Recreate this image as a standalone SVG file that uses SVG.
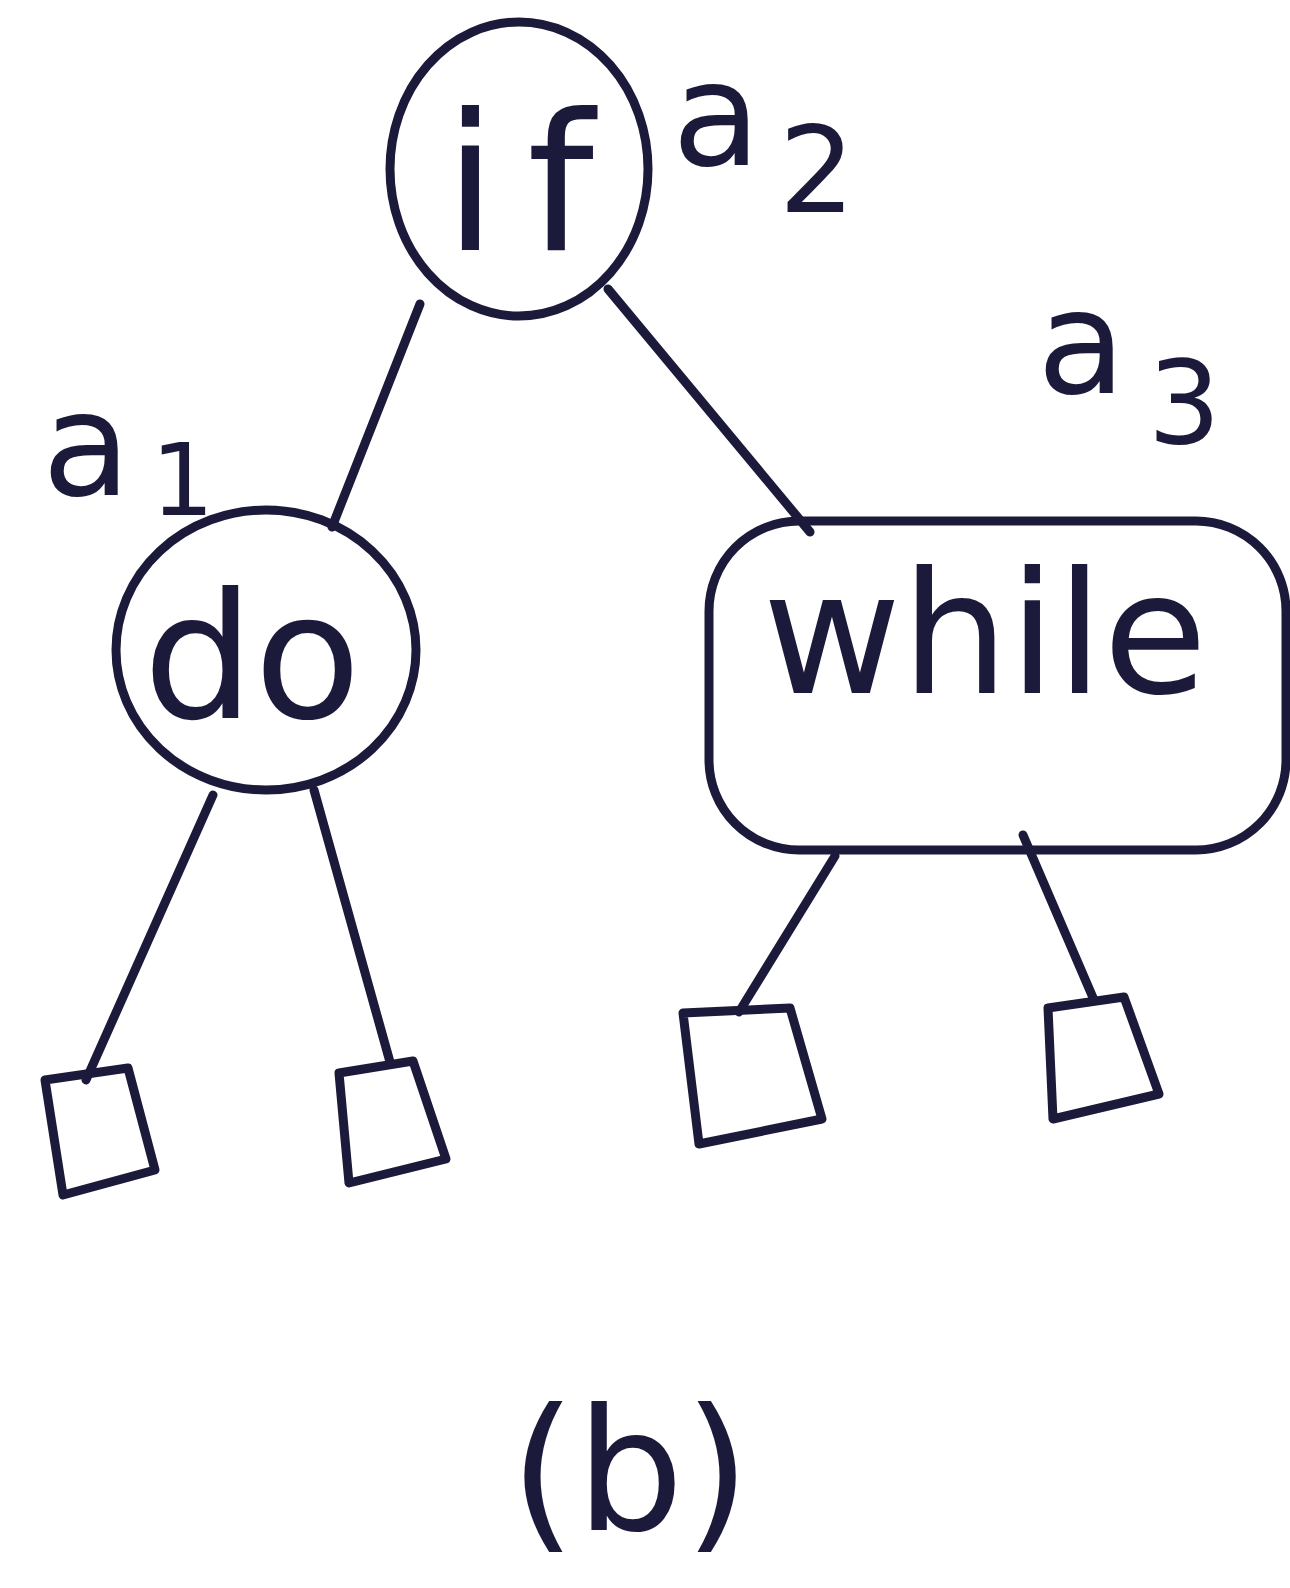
<svg xmlns="http://www.w3.org/2000/svg" width="1290" height="1588" viewBox="0 0 1290 1588">
<style>
.s{fill:none;stroke:#1c1a3a;stroke-width:9;stroke-linecap:round;stroke-linejoin:round}
.t{font-family:"DejaVu Sans","Liberation Sans",sans-serif;fill:#1c1a3a;text-anchor:middle}
.l{font-family:"DejaVu Sans","Liberation Sans",sans-serif;fill:#1c1a3a}
</style>
<rect width="1290" height="1588" fill="#ffffff"/>
<g id="connectors">
<line class="s" x1="420" y1="304" x2="332" y2="527"/>
<line class="s" x1="608" y1="289" x2="810" y2="532"/>
<line class="s" x1="213" y1="795" x2="86" y2="1080"/>
<line class="s" x1="314" y1="790" x2="390" y2="1062"/>
<line class="s" x1="835" y1="856" x2="739" y2="1012"/>
<line class="s" x1="1023" y1="835" x2="1094" y2="1000"/>
</g>
<g id="node-if">
<ellipse class="s" cx="519" cy="169" rx="129" ry="147"/>
<text class="t" x="519" y="250" font-size="190" textLength="150" lengthAdjust="spacing">if</text>
</g>
<g id="node-do">
<ellipse class="s" cx="266" cy="650" rx="150" ry="140"/>
<text class="t" x="252" y="718" font-size="175">do</text>
</g>
<g id="node-while">
<rect class="s" x="709" y="521" width="577" height="329" rx="90"/>
<text class="t" x="985" y="693" font-size="170" textLength="445" lengthAdjust="spacingAndGlyphs">while</text>
</g>
<g id="leaf1"><polygon class="s" points="45,1080 128,1068 155,1170 63,1195"/></g>
<g id="leaf2"><polygon class="s" points="339,1073 413,1061 446,1159 349,1183"/></g>
<g id="leaf3"><polygon class="s" points="683,1013 790,1008 822,1119 699,1144"/></g>
<g id="leaf4"><polygon class="s" points="1048,1008 1124,997 1159,1094 1053,1119"/></g>
<g id="labels">
<text class="l" x="42" y="495" font-size="145">a<tspan font-size="100" dx="20" dy="20">1</tspan></text>
<text class="l" x="672" y="165" font-size="145">a<tspan font-size="120" dx="18" dy="47">2</tspan></text>
<text class="l" x="1037" y="393" font-size="145">a<tspan font-size="115" dx="22" dy="50">3</tspan></text>
<text class="t" x="630" y="1530" font-size="170">(b)</text>
</g>
</svg>
